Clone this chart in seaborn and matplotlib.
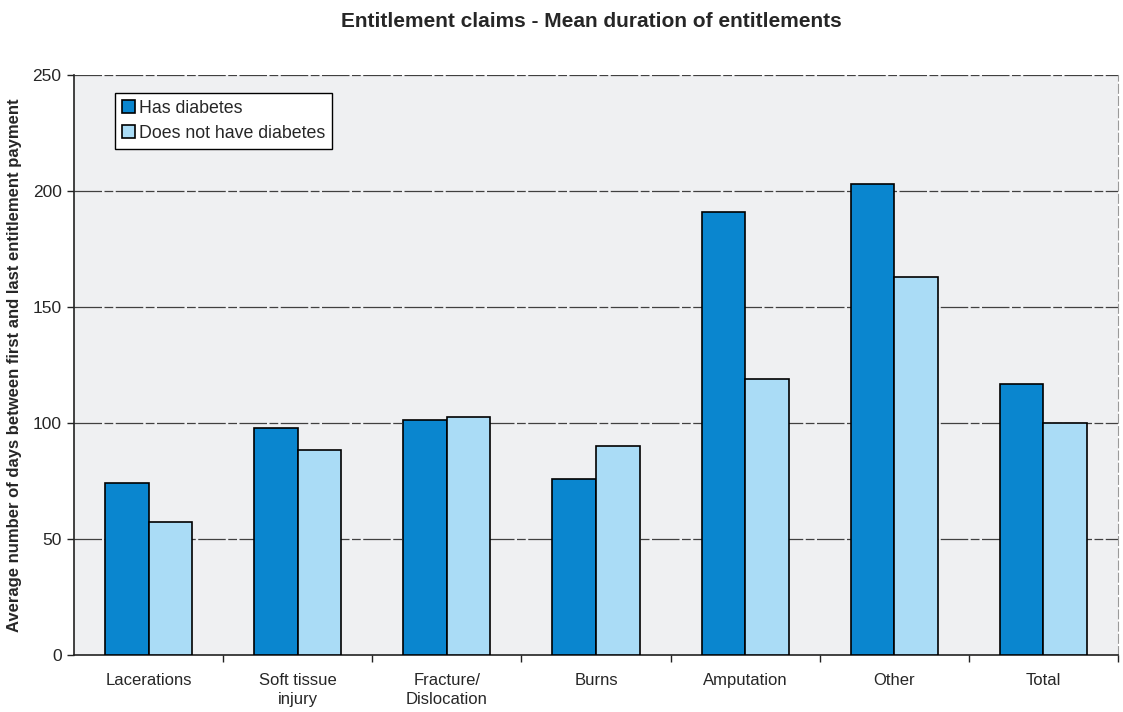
import matplotlib
matplotlib.use("Agg")
import matplotlib.pyplot as plt
import seaborn as sns
import pandas as pd
from matplotlib.patches import Patch

categories = ["Lacerations", "Soft tissue\ninjury", "Fracture/\nDislocation",
              "Burns", "Amputation", "Other", "Total"]
has_diabetes = [74, 98, 101.5, 76, 191, 203, 117]
no_diabetes = [57.5, 88.5, 102.5, 90, 119, 163, 100]
series = ["Has diabetes", "Does not have diabetes"]
y_ticks = [0, 50, 100, 150, 200, 250]

df = pd.DataFrame({
    "category": categories * 2,
    "group": [series[0]] * len(categories) + [series[1]] * len(categories),
    "days": has_diabetes + no_diabetes,
})

sns.set_theme(style="white")
plt.rcParams["font.family"] = ["Liberation Sans", "DejaVu Sans"]

dark_blue = "#0a86cf"
light_blue = "#aadcf6"
palette = {series[0]: dark_blue, series[1]: light_blue}

fig = plt.figure(figsize=(11.23, 7.12), dpi=100)
fig.patch.set_facecolor("white")
ax = fig.add_axes([0.066, 0.080, 0.9295, 0.8147])
ax.set_facecolor("#eff0f2")

sns.barplot(data=df, x="category", y="days", hue="group", order=categories,
            hue_order=series, palette=palette, width=0.584, gap=0,
            edgecolor="black", linewidth=1.2, saturation=1, ax=ax,
            legend=False, zorder=3)

ax.set_xlim(-0.5, len(categories) - 0.5)
ax.set_ylim(0, 250)
ax.set_yticks(y_ticks)
ax.set_yticklabels([str(v) for v in y_ticks], fontsize=12.5)

# horizontal gridlines
for v in y_ticks[1:]:
    ax.axhline(v, color="#404040", linewidth=0.9, zorder=1,
               dashes=(22, 2, 7, 2))

# category labels below, ticks at category boundaries
ax.set_xticks(range(len(categories)))
ax.set_xticklabels(categories, fontsize=12, linespacing=1.3)
ax.tick_params(axis="x", which="major", length=0, pad=13)
ax.set_xticks([i + 0.5 for i in range(len(categories))], minor=True)
ax.tick_params(axis="x", which="minor", length=5, width=1, color="#222222",
               direction="out", bottom=True)
ax.tick_params(axis="y", length=5, width=1, color="#222222",
               direction="out", left=True, pad=4)

for s in ["left", "bottom"]:
    ax.spines[s].set_color("#222222")
    ax.spines[s].set_linewidth(1.2)
ax.spines["top"].set_visible(False)
ax.spines["right"].set_color("#9a9a9a")
ax.spines["right"].set_linewidth(0.8)
ax.spines["right"].set_linestyle((0, (8, 3)))

ax.set_xlabel("")
ax.set_ylabel("Average number of days between first and last entitlement payment",
              fontsize=12, fontweight="bold")
ax.yaxis.set_label_coords(-0.050, 0.5)

handles = [Patch(facecolor=dark_blue, edgecolor="black", linewidth=1.2),
           Patch(facecolor=light_blue, edgecolor="black", linewidth=1.2)]
leg = ax.legend(handles, series, loc="upper left",
                bbox_to_anchor=(0.039, 0.969), fontsize=12.8,
                frameon=True, fancybox=False, framealpha=1,
                handlelength=0.75, handleheight=0.75, handletextpad=0.2,
                borderpad=0.4, labelspacing=0.45, borderaxespad=0)
leg.get_frame().set_edgecolor("black")
leg.get_frame().set_linewidth(1.0)
leg.get_frame().set_facecolor("white")
leg.set_zorder(5)

fig.text(0.527, 0.970, "Entitlement claims - Mean duration of entitlements",
         ha="center", va="center", fontsize=15, fontweight="bold")

fig.savefig("out.png", dpi=100, facecolor="white")
